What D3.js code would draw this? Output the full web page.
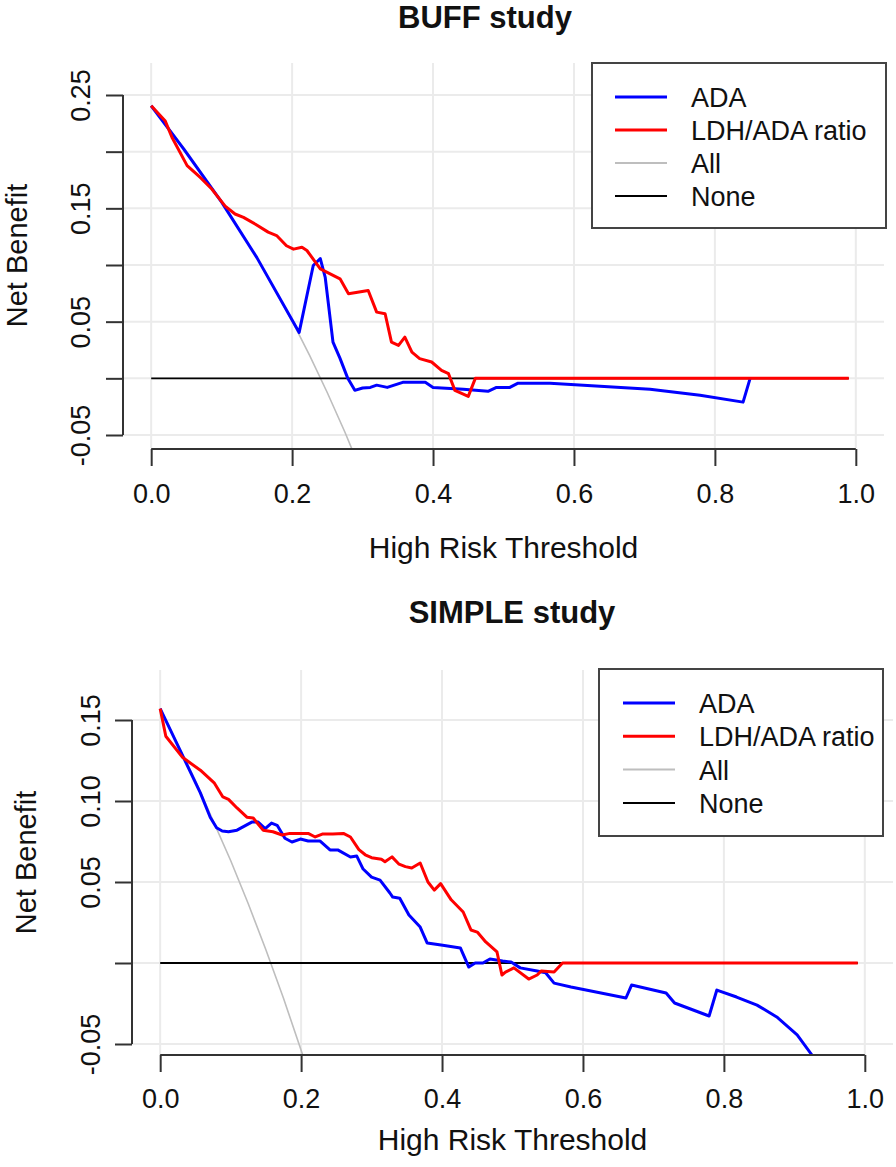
<!DOCTYPE html>
<html>
<head>
<meta charset="utf-8">
<script src="https://cdn.jsdelivr.net/npm/d3@7"></script>
<style>
  html, body { margin: 0; padding: 0; background: #ffffff; }
  svg { display: block; }
</style>
</head>
<body>
<svg id="chart" width="896" height="1167"></svg>
<script>
// ---------------- DATA ----------------
const legendLabels = ["ADA", "LDH/ADA ratio", "All", "None"];
const xTickValues = [0, 0.2, 0.4, 0.6, 0.8, 1.0];
const xTickLabels = ["0.0", "0.2", "0.4", "0.6", "0.8", "1.0"];

// BUFF study
const buffYTicks = [-0.05, 0, 0.05, 0.10, 0.15, 0.20, 0.25];
const buffYLabels = { "-0.05": "-0.05", "0.05": "0.05", "0.15": "0.15", "0.25": "0.25" };
const buffADA = [[0,0.2405],[0.046,0.2025],[0.10,0.1555],[0.15,0.1065],[0.21,0.0405],[0.23,0.0996],[0.24,0.1057],[0.247,0.089],[0.258,0.032],[0.268,0.0176],[0.279,0.0],[0.289,-0.0106],[0.30,-0.0085],[0.311,-0.008],[0.32,-0.006],[0.335,-0.008],[0.357,-0.0035],[0.389,-0.0035],[0.40,-0.008],[0.443,-0.0097],[0.478,-0.0115],[0.49,-0.008],[0.509,-0.008],[0.52,-0.0044],[0.566,-0.0044],[0.637,-0.007],[0.708,-0.0097],[0.779,-0.015],[0.84,-0.021],[0.85,0.0]];
const buffLDH = [[0,0.2405],[0.02,0.227],[0.03,0.212],[0.051,0.1877],[0.07,0.177],[0.086,0.167],[0.105,0.152],[0.119,0.145],[0.131,0.142],[0.148,0.136],[0.166,0.129],[0.178,0.126],[0.192,0.117],[0.202,0.114],[0.214,0.1157],[0.221,0.1128],[0.240,0.0966],[0.268,0.0878],[0.280,0.0746],[0.308,0.0775],[0.32,0.0584],[0.332,0.057],[0.341,0.032],[0.351,0.029],[0.36,0.0364],[0.37,0.0232],[0.381,0.0174],[0.398,0.0144],[0.412,0.007],[0.422,0.0041],[0.431,-0.0106],[0.45,-0.0159],[0.46,0.0],[0.99,0.0]];
const buffAll = [[0,0.2405],[0.05,0.2005],[0.10,0.156],[0.15,0.1065],[0.20,0.0506],[0.225,0.0201],[0.25,-0.0127],[0.275,-0.0476],[0.30,-0.085]];
const buffNone = [[0,0],[0.99,0]];

// SIMPLE study
const simpleYTicks = [-0.05, 0, 0.05, 0.10, 0.15];
const simpleYLabels = { "-0.05": "-0.05", "0.05": "0.05", "0.1": "0.10", "0.15": "0.15" };
const simpleADA = [[0,0.157],[0.028,0.1315],[0.057,0.105],[0.071,0.090],[0.08,0.0835],[0.088,0.0815],[0.097,0.081],[0.109,0.082],[0.13,0.087],[0.139,0.087],[0.149,0.083],[0.158,0.0864],[0.166,0.085],[0.177,0.077],[0.187,0.0747],[0.199,0.0765],[0.21,0.0753],[0.227,0.0753],[0.241,0.0698],[0.252,0.0698],[0.27,0.0654],[0.279,0.066],[0.288,0.058],[0.30,0.053],[0.312,0.0512],[0.326,0.0432],[0.33,0.0407],[0.34,0.0400],[0.353,0.0296],[0.369,0.0222],[0.379,0.0123],[0.401,0.011],[0.426,0.0093],[0.438,-0.0025],[0.447,0.0],[0.458,0.0],[0.468,0.0025],[0.486,0.0012],[0.498,0.0006],[0.511,-0.003],[0.535,-0.0049],[0.547,-0.006],[0.559,-0.0124],[0.583,-0.0148],[0.661,-0.0216],[0.669,-0.0136],[0.718,-0.0185],[0.73,-0.0247],[0.779,-0.0327],[0.79,-0.0167],[0.818,-0.021],[0.847,-0.026],[0.875,-0.0333],[0.904,-0.0444],[0.925,-0.0568]];
const simpleLDH = [[0,0.157],[0.008,0.140],[0.032,0.1268],[0.057,0.119],[0.077,0.111],[0.089,0.1025],[0.097,0.101],[0.109,0.0957],[0.123,0.090],[0.132,0.0895],[0.146,0.082],[0.160,0.081],[0.173,0.079],[0.184,0.080],[0.199,0.080],[0.21,0.080],[0.22,0.0778],[0.23,0.0796],[0.245,0.0796],[0.26,0.080],[0.27,0.0778],[0.282,0.070],[0.291,0.0668],[0.30,0.065],[0.314,0.064],[0.319,0.0625],[0.329,0.0655],[0.339,0.061],[0.348,0.0595],[0.357,0.0586],[0.369,0.0617],[0.38,0.050],[0.389,0.045],[0.398,0.049],[0.413,0.039],[0.43,0.0315],[0.441,0.0204],[0.45,0.0191],[0.462,0.013],[0.478,0.0068],[0.485,-0.0074],[0.49,-0.0056],[0.502,-0.003],[0.523,-0.0099],[0.535,-0.0074],[0.541,-0.0049],[0.559,-0.0056],[0.571,0.0],[0.99,0.0]];
const simpleAll = [[0,0.157],[0.05,0.1126],[0.10,0.0633],[0.125,0.0366],[0.15,0.0082],[0.175,-0.0218],[0.20,-0.0538],[0.21,-0.0671]];
const simpleNone = [[0,0],[0.99,0]];

// ---------------- STYLE ----------------
const FONT = "'Liberation Sans', Arial, Helvetica, sans-serif";
const COL = { ADA: "#0000ff", LDH: "#ff0000", All: "#bebebe", None: "#000000", grid: "#ebebeb", axis: "#333333" };
const svg = d3.select("#chart");

const panels = [
  {
    id: "buff", title: "BUFF study", titleX: 485, titleY: 28,
    plot: { l: 123, r: 884, t: 63, b: 448 },
    yDomain: [-0.05, 0.25], yRange: [435, 95],
    yTicks: buffYTicks, yLabels: buffYLabels,
    xAxisY: 449, yAxisX: 123, xTickBase: 503, yTickBase: 90, xTitleY: 558, yTitleX: 27,
    legend: { x: 592, y: 63, w: 294, h: 165, l1: 615, l2: 667, tx: 691, r0: 97, dy: 33 },
    series: { ADA: buffADA, LDH: buffLDH, All: buffAll, None: buffNone }
  },
  {
    id: "simple", title: "SIMPLE study", titleX: 512, titleY: 623,
    plot: { l: 132, r: 893, t: 670, b: 1055 },
    yDomain: [-0.05, 0.15], yRange: [1044, 720],
    yTicks: simpleYTicks, yLabels: simpleYLabels,
    xAxisY: 1055, yAxisX: 132, xTickBase: 1108, yTickBase: 100, xTitleY: 1150, yTitleX: 36,
    legend: { x: 599, y: 669, w: 284, h: 167, l1: 623, l2: 675, tx: 699, r0: 703, dy: 33.3 },
    series: { ADA: simpleADA, LDH: simpleLDH, All: simpleAll, None: simpleNone }
  }
];

panels.forEach(p => {
  const g = svg.append("g");
  const x = d3.scaleLinear().domain([-0.04, 1.04]).range([p.plot.l, p.plot.r]);
  const y = d3.scaleLinear().domain(p.yDomain).range(p.yRange);

  // grid
  const grid = g.append("g");
  grid.selectAll("line.v").data(xTickValues).join("line")
    .attr("x1", d => x(d)).attr("x2", d => x(d))
    .attr("y1", p.plot.t).attr("y2", p.plot.b)
    .attr("stroke", COL.grid).attr("stroke-width", 2);
  grid.selectAll("line.h").data(p.yTicks).join("line")
    .attr("x1", p.plot.l).attr("x2", p.plot.r)
    .attr("y1", d => y(d)).attr("y2", d => y(d))
    .attr("stroke", COL.grid).attr("stroke-width", 2);

  // clip
  svg.append("clipPath").attr("id", "clip-" + p.id)
    .append("rect").attr("x", p.plot.l).attr("y", p.plot.t)
    .attr("width", p.plot.r - p.plot.l).attr("height", p.plot.b - p.plot.t);

  const line = d3.line().x(d => x(d[0])).y(d => y(d[1]));
  const lg = g.append("g").attr("clip-path", "url(#clip-" + p.id + ")");
  lg.append("path").attr("d", line(p.series.All)).attr("fill", "none")
    .attr("stroke", COL.All).attr("stroke-width", 1.6);
  lg.append("path").attr("d", line(p.series.None)).attr("fill", "none")
    .attr("stroke", COL.None).attr("stroke-width", 1.8);
  lg.append("path").attr("d", line(p.series.ADA)).attr("fill", "none")
    .attr("stroke", COL.ADA).attr("stroke-width", 3).attr("stroke-linejoin", "round");
  lg.append("path").attr("d", line(p.series.LDH)).attr("fill", "none")
    .attr("stroke", COL.LDH).attr("stroke-width", 3).attr("stroke-linejoin", "round");

  // x axis
  const xAxis = d3.axisBottom(x).tickValues(xTickValues).tickSize(17)
    .tickFormat((d, i) => xTickLabels[i]);
  const xa = g.append("g").attr("transform", `translate(0,${p.xAxisY})`).call(xAxis);
  xa.select(".domain").attr("d", `M${x(0)},0H${x(1)}`).attr("stroke", COL.axis).attr("stroke-width", 2);
  xa.selectAll(".tick line").attr("stroke", COL.axis).attr("stroke-width", 2);
  xa.selectAll(".tick text").attr("y", p.xTickBase - p.xAxisY).attr("dy", null)
    .attr("font-family", FONT).attr("font-size", 27).attr("fill", "#111");

  // y axis
  const yAxis = d3.axisLeft(y).tickValues(p.yTicks).tickSize(17)
    .tickFormat(d => { const k = String(+d.toFixed(2)); return p.yLabels[k] || ""; });
  const ya = g.append("g").attr("transform", `translate(${p.yAxisX},0)`).call(yAxis);
  const yMin = d3.min(p.yTicks), yMax = d3.max(p.yTicks);
  ya.select(".domain").attr("d", `M0,${y(yMin)}V${y(yMax)}`).attr("stroke", COL.axis).attr("stroke-width", 2);
  ya.selectAll(".tick line").attr("stroke", COL.axis).attr("stroke-width", 2);
  ya.selectAll(".tick text")
    .attr("x", null).attr("dy", null)
    .attr("transform", `translate(${p.yTickBase - p.yAxisX},0) rotate(-90)`)
    .attr("text-anchor", "middle")
    .attr("font-family", FONT).attr("font-size", 27).attr("fill", "#111");

  // titles
  g.append("text").attr("x", p.titleX).attr("y", p.titleY)
    .attr("text-anchor", "middle").attr("font-family", FONT)
    .attr("font-weight", "bold").attr("font-size", 31).attr("fill", "#111")
    .text(p.title);
  g.append("text").attr("x", (x(0) + x(1)) / 2).attr("y", p.xTitleY)
    .attr("text-anchor", "middle").attr("font-family", FONT)
    .attr("font-size", 30).attr("fill", "#111").text("High Risk Threshold");
  g.append("text")
    .attr("transform", `translate(${p.yTitleX},${(p.plot.t + p.plot.b) / 2}) rotate(-90)`)
    .attr("text-anchor", "middle").attr("font-family", FONT)
    .attr("font-size", 29).attr("fill", "#111").text("Net Benefit");

  // legend
  const L = p.legend;
  const leg = g.append("g");
  leg.append("rect").attr("x", L.x).attr("y", L.y).attr("width", L.w).attr("height", L.h)
    .attr("fill", "#ffffff").attr("stroke", "#444444").attr("stroke-width", 2);
  const legStyles = [
    { c: COL.ADA, w: 3 }, { c: COL.LDH, w: 3 }, { c: COL.All, w: 2 }, { c: COL.None, w: 2 }
  ];
  const rows = leg.selectAll("g.row").data(legendLabels).join("g")
    .attr("transform", (d, i) => `translate(0,${L.r0 + i * L.dy})`);
  rows.append("line").attr("x1", L.l1).attr("x2", L.l2).attr("y1", 0).attr("y2", 0)
    .attr("stroke", (d, i) => legStyles[i].c).attr("stroke-width", (d, i) => legStyles[i].w);
  rows.append("text").attr("x", L.tx).attr("y", 10)
    .attr("font-family", FONT).attr("font-size", 27).attr("fill", "#111").text(d => d);
});
</script>
</body>
</html>
